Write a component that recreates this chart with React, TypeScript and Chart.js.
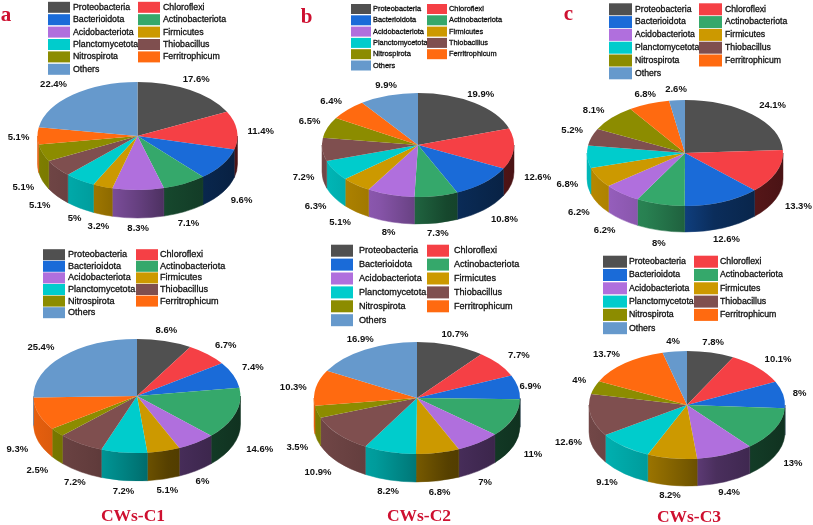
import React, { useEffect, useRef } from "react";
import { Chart, registerables } from "chart.js";

Chart.register(...registerables);

const categories = ["Proteobacteria","Chloroflexi","Bacterioidota","Actinobacteriota","Acidobacteriota","Firmicutes","Planctomycetota","Thiobacillus","Nitrospirota","Ferritrophicum","Others"];
const seriesColors = ["#505050","#F54045","#1A6BD8","#35A86B","#B06FDD","#CC9900","#00CCCC","#7F4F4F","#8C8C00","#FF6A10","#6699CC"];

const valuesA1 = [17.6,11.4,9.6,7.1,8.3,3.2,5,5.1,5.1,5.1,22.4];
const valuesB1 = [19.9,12.6,10.8,7.3,8,5.1,6.3,7.2,6.5,6.4,9.9];
const valuesC1 = [24.1,13.3,12.6,8,6.2,6.2,6.8,5.2,8.1,6.8,2.6];
const valuesA2 = [8.6,6.7,7.4,14.6,6,5.1,7.2,7.2,2.5,9.3,25.4];
const valuesB2 = [10.7,7.7,6.9,11,7,6.8,8.2,10.9,3.5,10.3,16.9];
const valuesC2 = [7.8,10.1,8,13,9.4,8.2,9.1,12.6,4,13.7,4];

const W = 813, H = 525;
const RED = "#CE1030";

const panels = [
  { values: valuesA1, cx: 137.5, cy: 136, rx: 100, ry: 54, depth: 28,
    nudge: [[-3,0],[1,2],[1,2],[-4,1],[0,-2],[1,0],[5,0],[-1,2],[2,3],[4,1],[-7,-1]],
    legend: { s1: 48, s2: 138, sw: 22, sh: 11, t1: 73, t2: 163, y0: 7.3, dy: 12.4, fs: 8.8 },
    letter: { text: "a", x: 6, y: 20.7 } },
  { values: valuesB1, cx: 418, cy: 145, rx: 96, ry: 52, depth: 27,
    nudge: [[-4,1],[1,1],[7,1],[-1,-1],[2,-1],[-4,1],[0,3],[4,0],[3,-2],[-2,0],[2,1]],
    legend: { s1: 351, s2: 427, sw: 20, sh: 10, t1: 373, t2: 449, y0: 9, dy: 11.3, fs: 7.4 },
    letter: { text: "b", x: 306.5, y: 23 } },
  { values: valuesC1, cx: 685, cy: 153, rx: 98, ry: 53, depth: 26,
    nudge: [[7,0],[1,4],[-2,0],[2,1],[-5,2],[0,3],[3,1],[2,-3],[-3,0],[2,2],[0,1]],
    legend: { s1: 609, s2: 699, sw: 23, sh: 12, t1: 635, t2: 725, y0: 9.3, dy: 12.8, fs: 8.7 },
    letter: { text: "c", x: 568.5, y: 19.5 } },
  { values: valuesA2, cx: 137, cy: 396, rx: 103.5, ry: 57, depth: 28,
    nudge: [[-2,1],[5,0],[-1,-3],[3,4],[-4,1],[0,0],[1,-1],[4,1],[-4,3],[0,4],[-8,0]],
    legend: { s1: 43, s2: 136, sw: 22, sh: 11, t1: 68, t2: 160, y0: 254.7, dy: 11.6, fs: 9.1 },
    title: { text: "CWs-C1", x: 133, y: 516 } },
  { values: valuesB2, cx: 417, cy: 398, rx: 103, ry: 56, depth: 28,
    nudge: [[-1,1],[4,-1],[-10,2],[-1,4],[-4,2],[-1,0],[2,0],[-5,2],[2,5],[0,2],[4,0]],
    legend: { s1: 331, s2: 427, sw: 22, sh: 12, t1: 359, t2: 454, y0: 250.7, dy: 13.9, fs: 9.1 },
    title: { text: "CWs-C2", x: 419, y: 516 } },
  { values: valuesC2, cx: 687, cy: 405, rx: 98, ry: 54, depth: 27,
    nudge: [[-1,1],[6,0],[-6,1],[-1,2],[-2,0],[0,-2],[-5,0],[0,-2],[6,-3],[-7,1],[0,2]],
    legend: { s1: 603, s2: 694, sw: 24, sh: 12, t1: 629, t2: 720, y0: 261.7, dy: 13.3, fs: 8.75 },
    title: { text: "CWs-C3", x: 689, y: 517 } },
];

function shade(hex: string, f: number) {
  const n = parseInt(hex.slice(1), 16);
  const r = Math.round(((n >> 16) & 255) * f);
  const g = Math.round(((n >> 8) & 255) * f);
  const b = Math.round((n & 255) * f);
  return `rgb(${r},${g},${b})`;
}

const pie3d = {
  id: "pie3d",
  beforeDatasetsDraw(chart: any, _a: any, o: any) {
    const ctx = chart.ctx;
    const arcs = chart.getDatasetMeta(0).data;
    const { x: cx, y: cy, outerRadius: rx } = arcs[0];
    const ry = o.ry, depth = o.depth;
    arcs.forEach((arc: any, i: number) => {
      const ranges = [[0, Math.PI], [2 * Math.PI, 3 * Math.PI]];
      ranges.forEach(([lo, hi]) => {
        const a = Math.max(arc.startAngle, lo);
        const b = Math.min(arc.endAngle, hi);
        if (b <= a) return;
        const color = seriesColors[i];
        const g = ctx.createLinearGradient(cx - rx, 0, cx + rx, 0);
        g.addColorStop(0, shade(color, 0.9));
        g.addColorStop(0.3, shade(color, 0.76));
        g.addColorStop(0.5, shade(color, 0.58));
        g.addColorStop(0.65, shade(color, 0.42));
        g.addColorStop(0.82, shade(color, 0.36));
        g.addColorStop(1, shade(color, 0.3));
        ctx.save();
        ctx.beginPath();
        ctx.ellipse(cx, cy, rx, ry, 0, a, b);
        ctx.ellipse(cx, cy + depth, rx, ry, 0, b, a, true);
        ctx.closePath();
        ctx.fillStyle = g;
        ctx.strokeStyle = g;
        ctx.lineWidth = 0.5;
        ctx.fill();
        ctx.stroke();
        ctx.restore();
      });
    });
    ctx.save();
    ctx.translate(cx, cy);
    ctx.scale(1, ry / rx);
    ctx.translate(-cx, -cy);
  },
  afterDatasetsDraw(chart: any, _a: any, o: any) {
    const ctx = chart.ctx;
    ctx.restore();
    const arcs = chart.getDatasetMeta(0).data;
    const { x: cx, y: cy, outerRadius: rx } = arcs[0];
    const vals = chart.data.datasets[0].data;
    ctx.save();
    ctx.font = 'bold 9.5px "Liberation Sans", Arial, sans-serif';
    ctx.fillStyle = "#111";
    ctx.textAlign = "center";
    ctx.textBaseline = "middle";
    arcs.forEach((arc: any, i: number) => {
      const mid = (arc.startAngle + arc.endAngle) / 2 + Math.PI / 2;
      const s = Math.sin(mid), c = Math.cos(mid);
      const lx = cx + (rx + 11 + 12 * Math.abs(s)) * s + o.nudge[i][0];
      const ly = cy - (o.ry + 12) * c + (c < 0 ? o.depth : 0) + o.nudge[i][1];
      ctx.fillText(`${vals[i]}%`, lx, ly);
    });
    ctx.restore();
  },
  afterDraw(chart: any, _a: any, o: any) {
    const ctx = chart.ctx;
    const L = o.legend;
    ctx.save();
    ctx.textBaseline = "middle";
    ctx.textAlign = "left";
    ctx.lineWidth = 0.3;
    ctx.font = `${L.fs}px "Liberation Sans", Arial, sans-serif`;
    chart.data.labels.forEach((name: string, i: number) => {
      const col = i % 2, row = Math.floor(i / 2);
      const y = L.y0 + row * L.dy;
      ctx.fillStyle = seriesColors[i];
      ctx.fillRect(col ? L.s2 : L.s1, y - L.sh / 2, L.sw, L.sh);
      ctx.fillStyle = "#111";
      ctx.strokeStyle = "#111";
      ctx.fillText(name, col ? L.t2 : L.t1, y);
      ctx.strokeText(name, col ? L.t2 : L.t1, y);
    });
    ctx.fillStyle = RED;
    if (o.letter) {
      ctx.textAlign = "center";
      ctx.textBaseline = "alphabetic";
      ctx.font = 'bold 21px "Liberation Serif", serif';
      ctx.fillText(o.letter.text, o.letter.x, o.letter.y);
    }
    if (o.title) {
      ctx.textAlign = "center";
      ctx.textBaseline = "middle";
      ctx.font = 'bold 17.5px "Liberation Serif", serif';
      ctx.fillText(o.title.text, o.title.x, o.title.y);
    }
    ctx.restore();
  },
};

function Panel({ panel }: { panel: (typeof panels)[number] }) {
  const ref = useRef<HTMLCanvasElement>(null);
  useEffect(() => {
    const { cx, cy, rx } = panel;
    const chart = new Chart(ref.current as HTMLCanvasElement, {
      type: "pie",
      data: {
        labels: categories,
        datasets: [{ data: panel.values, backgroundColor: seriesColors, borderWidth: 0, clip: false } as any],
      },
      options: {
        animation: false,
        responsive: false,
        devicePixelRatio: 1,
        events: [],
        rotation: 0,
        layout: { padding: { left: cx - rx, right: W - cx - rx, top: cy - rx, bottom: H - cy - rx } },
        plugins: {
          legend: { display: false },
          tooltip: { enabled: false },
          pie3d: { ry: panel.ry, depth: panel.depth, nudge: panel.nudge, legend: panel.legend, letter: (panel as any).letter, title: (panel as any).title },
        } as any,
      },
      plugins: [pie3d],
    });
    return () => chart.destroy();
  }, [panel]);
  return <canvas ref={ref} width={W} height={H} style={{ position: "absolute", left: 0, top: 0, width: W, height: H }} />;
}

export default function App() {
  return (
    <div style={{ position: "absolute", left: 0, top: 0, width: W, height: H, background: "#fff", overflow: "hidden", filter: "blur(0.3px)" }}>
      {panels.map((p, i) => <Panel key={i} panel={p} />)}
    </div>
  );
}
